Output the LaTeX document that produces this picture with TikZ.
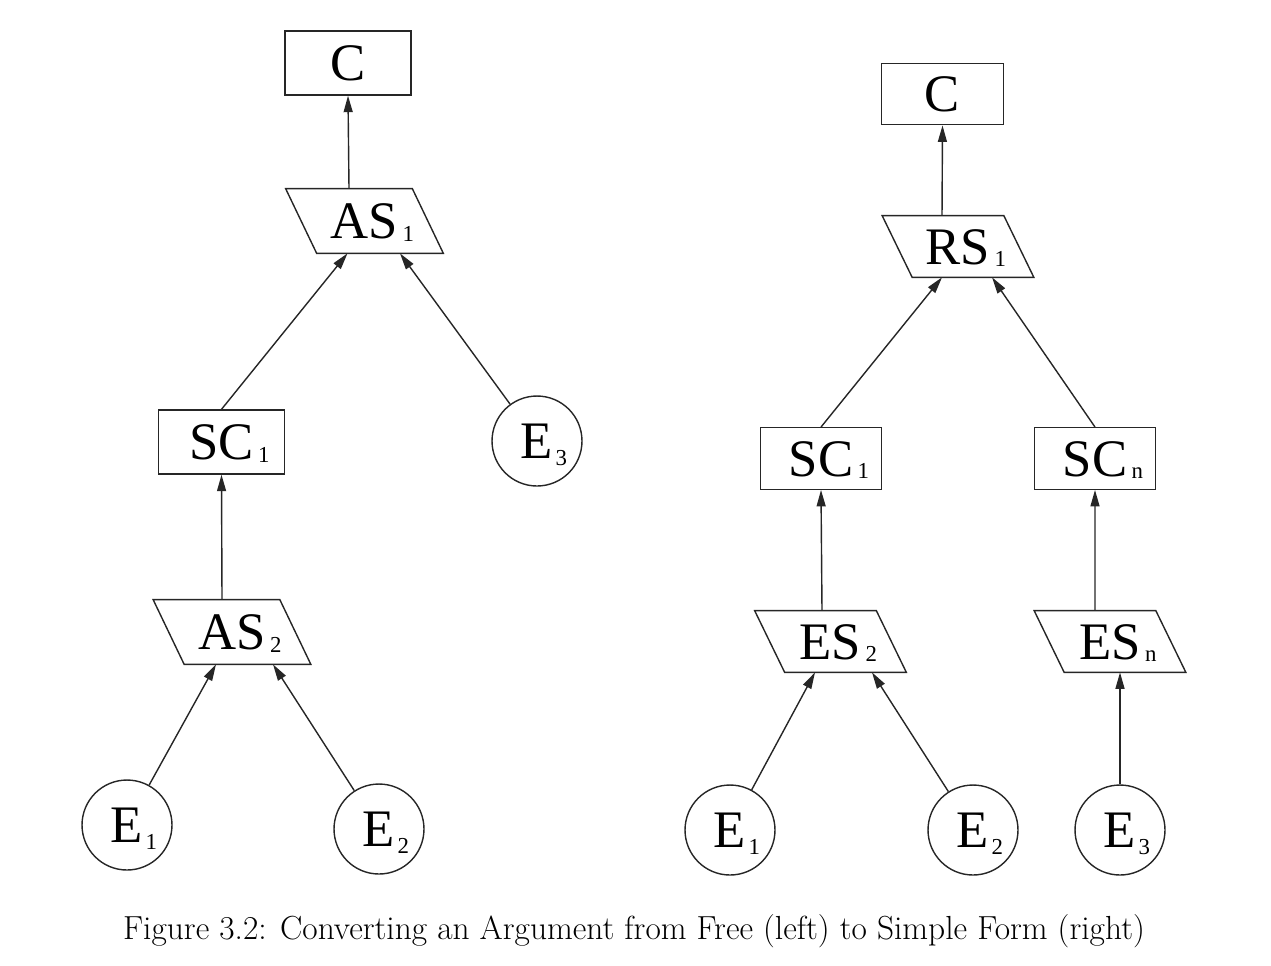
\documentclass[tikz,border=0pt]{standalone}
\usepackage{fontspec}
\newfontfamily\nodefont{Liberation Serif}
\usetikzlibrary{arrows.meta}
\newcommand\lab[2]{#1\rlap{\kern2.5pt\raisebox{-1.5pt}{\fontsize{13}{13}\selectfont #2}}}
\newcommand\labE[2]{#1\rlap{\kern1.5pt\raisebox{-4pt}{\fontsize{13}{13}\selectfont #2}}}
\newcommand\drawpara[2]{\draw[outl] ([xshift=-#2]#1.north west) -- ([xshift=-#2]#1.north east) -- ([xshift=#2]#1.south east) -- ([xshift=#2]#1.south west) -- cycle;}
\begin{document}
\begin{tikzpicture}[x=0.02cm,y=-0.02cm,
  outl/.style={draw=black!85,line width=0.8pt},
  base/.style={font=\nodefont\fontsize{30}{30}\selectfont,text height=20pt,text depth=0pt,inner sep=0pt},
  boxl/.style={base,outl,rectangle,minimum width=2.52cm,minimum height=1.28cm},
  boxr/.style={base,outl,rectangle,minimum width=2.43cm,minimum height=1.23cm},
  paral/.style={base,rectangle,minimum width=2.52cm,minimum height=1.28cm},
  parar/.style={base,rectangle,minimum width=2.42cm,minimum height=1.22cm},
  ev/.style={base,outl,circle,minimum size=1.8cm},
  conn/.style={draw=black!85,line width=0.8pt,-{Triangle[length=3.3mm,width=1.8mm]}}]
\useasboundingbox (0,0) rectangle (1271,965);
% left tree
\node[boxl] (Cl) at (348,63) {C};
\node[paral] (AS1) at (364.5,221) {\lab{AS}{1}};
\node[boxl] (SCl) at (221.5,442) {\lab{SC}{1}};
\node[ev] (E3l) at (537,441) {\labE{E}{3}};
\node[paral] (AS2) at (232,632) {\lab{AS}{2}};
\node[ev] (E1l) at (127,825) {\labE{E}{1}};
\node[ev] (E2l) at (379,829) {\labE{E}{2}};
\drawpara{AS1}{0.31cm}
\drawpara{AS2}{0.31cm}
% right tree
\node[boxr] (Cr) at (942.5,94) {C};
\node[parar] (RS1) at (958,246.5) {\lab{RS}{1}};
\node[boxr] (SC1r) at (821,458.5) {\lab{SC}{1}};
\node[boxr] (SCnr) at (1095,458.5) {\lab{SC}{n}};
\node[parar] (ES2) at (830.5,641.5) {\lab{ES}{2}};
\node[parar] (ESn) at (1110,641.5) {\lab{ES}{n}};
\node[ev] (E1r) at (730,830) {\labE{E}{1}};
\node[ev] (E2r) at (973,830) {\labE{E}{2}};
\node[ev] (E3r) at (1120,830) {\labE{E}{3}};
\drawpara{RS1}{0.3cm}
\drawpara{ES2}{0.3cm}
\drawpara{ESn}{0.3cm}
% connectors left
\draw[conn] ([xshift=-0.31cm]AS1.north) -- (Cl.south);
\draw[conn] (SCl.north) -- ([xshift=-0.34cm]AS1.south);
\draw[conn] (E3l) -- ([xshift=0.71cm]AS1.south);
\draw[conn] ([xshift=-0.2cm]AS2.north) -- (SCl.south);
\draw[conn] (E1l) -- ([xshift=-0.32cm]AS2.south);
\draw[conn] (E2l) -- ([xshift=0.82cm]AS2.south);
% connectors right
\draw[conn] ([xshift=-0.32cm]RS1.north) -- (Cr.south);
\draw[conn] (SC1r.north) -- ([xshift=-0.32cm]RS1.south);
\draw[conn] (SCnr.north) -- ([xshift=0.68cm]RS1.south);
\draw[conn] ([xshift=-0.17cm]ES2.north) -- (SC1r.south);
\draw[conn] ([xshift=-0.3cm]ESn.north) -- (SCnr.south);
\draw[conn] (E1r) -- ([xshift=-0.31cm]ES2.south);
\draw[conn] (E2r) -- ([xshift=0.83cm]ES2.south);
\draw[conn] (E3r) -- (E3r |- ESn.south);
% caption
\node[inner sep=0pt,font=\fontsize{19}{22}\selectfont] (cap) at (634,931) {Figure 3.2: Converting an Argument from Free (left) to Simple Form (right)};
\end{tikzpicture}
\end{document}
